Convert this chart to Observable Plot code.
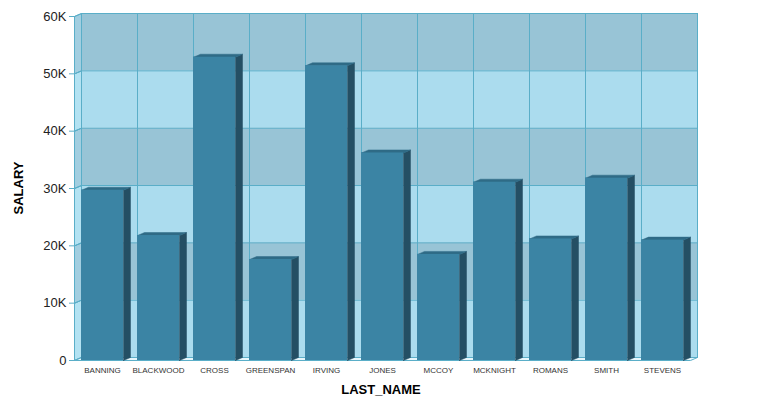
<!DOCTYPE html>
<html>
<head>
<meta charset="utf-8">
<script src="https://cdn.jsdelivr.net/npm/d3@7"></script>
<script src="https://cdn.jsdelivr.net/npm/@observablehq/plot@0.6"></script>
<style>
  html, body { margin: 0; padding: 0; background: #fff; }
  #chart { position: relative; width: 770px; height: 405px; }
</style>
</head>
<body>
<div id="chart"></div>
<script>
const names = ["BANNING","BLACKWOOD","CROSS","GREENSPAN","IRVING","JONES","MCCOY","MCKNIGHT","ROMANS","SMITH","STEVENS"];
const salaries = [29700, 21800, 52900, 17600, 51400, 36200, 18500, 31100, 21200, 31800, 21000];
const yTicks = [0, 10000, 20000, 30000, 40000, 50000, 60000];
const yTickLabels = ["0","10K","20K","30K","40K","50K","60K"];

const W = 770, H = 405;
const mL = 74, mR = 80, mT = 16, mB = 45;
const n = names.length;
const yMax = 60000;
const bandPx = (W - mL - mR) / n;
// depth offset in data units (7px right, 3px up)
const DX = 7 / bandPx;
const DY = 3 * yMax / (H - mT - mB);
const TICK = 5 / bandPx;

const bandDark = "#98c4d6", bandLight = "#abdcee";
const wallDark = "#a2cee0", wallLight = "#b3e2f2";
const gridColor = "#5aaec8";

const bands = yTicks.slice(0, -1).map((v, i) => ({lo: v, hi: yTicks[i + 1], fill: i % 2 === 0 ? bandLight : bandDark, wall: i % 2 === 0 ? wallLight : wallDark}));

const polys = [];
let pid = 0;
function poly(points, fill) {
  const id = pid++;
  for (const [x, y] of points) polys.push({id, x, y, fill});
  polys.push({id, x: points[0][0], y: points[0][1], fill});
}
bands.forEach(b => poly([[0, b.lo], [DX, b.lo + DY], [DX, b.hi + DY], [0, b.hi]], b.wall));
poly([[0, 0], [n, 0], [n + DX, DY], [DX, DY]], "#e6f6fb");

const barPolys = [];
let bid = 0;
function bpoly(points, fill) {
  const id = bid++;
  for (const [x, y] of points) barPolys.push({id, x, y, fill});
  barPolys.push({id, x: points[0][0], y: points[0][1], fill});
}
salaries.forEach((v, i) => {
  const x0 = i + DX, x1 = i + 1 - DX;
  bpoly([[x1, 0], [x1 + DX, DY], [x1 + DX, v + DY], [x1, v]], "#244f64");
  bpoly([[x0, v], [x1, v], [x1 + DX, v + DY], [x0 + DX, v + DY]], "#2f6b86");
});
const barRects = salaries.map((v, i) => ({x1: i + DX, x2: i + 1 - DX, v}));

const hLines = [];
yTicks.forEach((t, k) => {
  hLines.push({id: k, x: 0, y: t}, {id: k, x: DX, y: t + DY}, {id: k, x: n + DX, y: t + DY});
});
const vLines = d3.range(0, n + 1).map(k => ({x: k + DX}));

const plot = Plot.plot({
  width: W, height: H,
  marginLeft: mL, marginRight: mR, marginTop: mT, marginBottom: mB,
  x: {type: "linear", domain: [0, n], axis: null},
  y: {type: "linear", domain: [0, yMax], axis: null},
  color: {type: "identity"},
  style: {fontFamily: "Arial, 'Liberation Sans', sans-serif"},
  marks: [
    Plot.rect(bands, {x1: DX, x2: n + DX, y1: d => d.lo + DY, y2: d => d.hi + DY, fill: "fill"}),
    Plot.line(polys, {x: "x", y: "y", z: "id", fill: "fill", stroke: gridColor, strokeWidth: 1, curve: "linear"}),
    Plot.ruleX(vLines, {x: "x", y1: DY, y2: yMax + DY, stroke: gridColor, strokeWidth: 1}),
    Plot.line(hLines, {x: "x", y: "y", z: "id", stroke: gridColor, strokeWidth: 1}),
    Plot.ruleX([0], {y1: 0, y2: yMax, stroke: gridColor}),
    Plot.ruleY(yTicks, {y: d => d, x1: -TICK, x2: 0, stroke: gridColor}),
    Plot.line(barPolys, {x: "x", y: "y", z: "id", fill: "fill", stroke: "fill", strokeWidth: 0.5}),
    Plot.rect(barRects, {x1: "x1", x2: "x2", y1: 0, y2: "v", fill: "#3b84a4"}),
    Plot.text(yTicks, {x: 0, y: d => d, text: (d, i) => yTickLabels[i], dx: -8, textAnchor: "end", fontSize: 13, fill: "#222"}),
    Plot.text(names, {x: (d, i) => i + 0.5, y: 0, text: d => d, dy: 10, fontSize: 8, fill: "#333"}),
  ]
});

const ns = "http://www.w3.org/2000/svg";
const t1 = document.createElementNS(ns, "text");
t1.setAttribute("transform", "translate(23,188) rotate(-90)");
t1.setAttribute("text-anchor", "middle");
t1.setAttribute("font-size", "13");
t1.setAttribute("font-weight", "bold");
t1.setAttribute("font-family", "Arial, 'Liberation Sans', sans-serif");
t1.textContent = "SALARY";
plot.appendChild(t1);
const t2 = document.createElementNS(ns, "text");
t2.setAttribute("x", 381);
t2.setAttribute("y", 394);
t2.setAttribute("text-anchor", "middle");
t2.setAttribute("font-size", "13");
t2.setAttribute("font-weight", "bold");
t2.setAttribute("font-family", "Arial, 'Liberation Sans', sans-serif");
t2.textContent = "LAST_NAME";
plot.appendChild(t2);

document.getElementById("chart").appendChild(plot);
</script>
</body>
</html>
